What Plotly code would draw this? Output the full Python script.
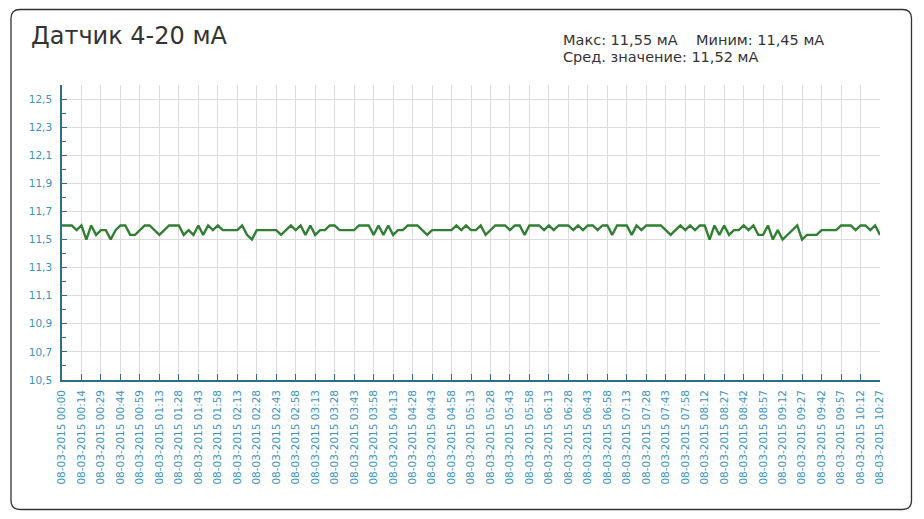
import plotly.graph_objects as go

# ---- data ----
tick_labels = [
    "08-03-2015 00:00", "08-03-2015 00:14", "08-03-2015 00:29", "08-03-2015 00:44",
    "08-03-2015 00:59", "08-03-2015 01:13", "08-03-2015 01:28", "08-03-2015 01:43",
    "08-03-2015 01:58", "08-03-2015 02:13", "08-03-2015 02:28", "08-03-2015 02:43",
    "08-03-2015 02:58", "08-03-2015 03:13", "08-03-2015 03:28", "08-03-2015 03:43",
    "08-03-2015 03:58", "08-03-2015 04:13", "08-03-2015 04:28", "08-03-2015 04:43",
    "08-03-2015 04:58", "08-03-2015 05:13", "08-03-2015 05:28", "08-03-2015 05:43",
    "08-03-2015 05:58", "08-03-2015 06:13", "08-03-2015 06:28", "08-03-2015 06:43",
    "08-03-2015 06:58", "08-03-2015 07:13", "08-03-2015 07:28", "08-03-2015 07:43",
    "08-03-2015 07:58", "08-03-2015 08:12", "08-03-2015 08:27", "08-03-2015 08:42",
    "08-03-2015 08:57", "08-03-2015 09:12", "08-03-2015 09:27", "08-03-2015 09:42",
    "08-03-2015 09:57", "08-03-2015 10:12", "08-03-2015 10:27",
]

values = [
    11.60, 11.60, 11.60, 11.567, 11.60, 11.50, 11.60, 11.533, 11.567, 11.567,
    11.50, 11.567, 11.60, 11.60, 11.533, 11.533, 11.567, 11.60, 11.60, 11.567,
    11.533, 11.567, 11.60, 11.60, 11.60, 11.533, 11.567, 11.533, 11.60, 11.533,
    11.60, 11.567, 11.60, 11.567, 11.567, 11.567, 11.567, 11.60, 11.533, 11.50,
    11.567, 11.567, 11.567, 11.567, 11.567, 11.533, 11.567, 11.60, 11.567, 11.60,
    11.533, 11.60, 11.533, 11.567, 11.567, 11.60, 11.60, 11.567, 11.567, 11.567,
    11.567, 11.60, 11.60, 11.60, 11.533, 11.60, 11.533, 11.60, 11.533, 11.567,
    11.567, 11.60, 11.60, 11.60, 11.567, 11.533, 11.567, 11.567, 11.567, 11.567,
    11.567, 11.60, 11.567, 11.60, 11.567, 11.567, 11.60, 11.533, 11.567, 11.60,
    11.60, 11.60, 11.567, 11.60, 11.60, 11.533, 11.60, 11.60, 11.60, 11.567,
    11.60, 11.567, 11.60, 11.60, 11.60, 11.567, 11.60, 11.567, 11.60, 11.60,
    11.567, 11.60, 11.60, 11.533, 11.60, 11.60, 11.60, 11.533, 11.60, 11.567,
    11.60, 11.60, 11.60, 11.60, 11.567, 11.533, 11.567, 11.60, 11.567, 11.60,
    11.567, 11.60, 11.60, 11.50, 11.60, 11.533, 11.60, 11.533, 11.567, 11.567,
    11.60, 11.567, 11.60, 11.533, 11.533, 11.60, 11.50, 11.567, 11.50, 11.533,
    11.567, 11.60, 11.50, 11.533, 11.533, 11.533, 11.567, 11.567, 11.567, 11.567,
    11.60, 11.60, 11.60, 11.567, 11.60, 11.60, 11.567, 11.60, 11.533,
]

points_per_label = 4
x_idx = list(range(len(values)))
tick_idx = list(range(0, len(values), points_per_label))
y_tickvals = [10.5, 10.7, 10.9, 11.1, 11.3, 11.5, 11.7, 11.9, 12.1, 12.3, 12.5]

title_text = "Датчик 4-20 мА"
stats_line1 = "Макс: 11,55 мА    Миним: 11,45 мА"
stats_line2 = "Сред. значение: 11,52 мА"

# ---- layout geometry ----
W, H = 924, 519
ML, MR, MT, MB = 62, 44, 85, 139
PW, PH = W - ML - MR, H - MT - MB

def px(x):
    return (x - ML) / PW

def py(y):
    return (H - MB - y) / PH

axis_col = "#2f6f86"
label_col = "#3a93bb"
font_fam = "DejaVu Sans, Verdana, sans-serif"

fig = go.Figure()
fig.add_trace(go.Scatter(
    x=x_idx, y=values, mode="lines",
    line=dict(color="#317f33", width=2.4),
    hoverinfo="y", showlegend=False, cliponaxis=False,
))

# rounded border
x0, x1, y0, y1, r = 11, 911.5, 9.5, 509.5, 9
path = (
    f"M {px(x0 + r)} {py(y0)} L {px(x1 - r)} {py(y0)} "
    f"Q {px(x1)} {py(y0)} {px(x1)} {py(y0 + r)} "
    f"L {px(x1)} {py(y1 - r)} Q {px(x1)} {py(y1)} {px(x1 - r)} {py(y1)} "
    f"L {px(x0 + r)} {py(y1)} Q {px(x0)} {py(y1)} {px(x0)} {py(y1 - r)} "
    f"L {px(x0)} {py(y0 + r)} Q {px(x0)} {py(y0)} {px(x0 + r)} {py(y0)} Z"
)

fig.update_layout(
    width=W, height=H,
    margin=dict(l=ML, r=MR, t=MT, b=MB),
    paper_bgcolor="white", plot_bgcolor="white",
    separators=", ",
    font=dict(family=font_fam, color="#333333"),
    shapes=[dict(type="path", xref="paper", yref="paper", path=path,
                 line=dict(color="#333333", width=1.3), layer="below")],
    annotations=[
        dict(text=title_text, xref="paper", yref="paper", x=px(29), y=py(36),
             xanchor="left", yanchor="middle", showarrow=False,
             font=dict(size=24, color="#333333", family=font_fam)),
        dict(text=stats_line1, xref="paper", yref="paper", x=px(561), y=py(39.5),
             xanchor="left", yanchor="middle", showarrow=False,
             font=dict(size=14.5, color="#333333", family=font_fam)),
        dict(text=stats_line2, xref="paper", yref="paper", x=px(561), y=py(57),
             xanchor="left", yanchor="middle", showarrow=False,
             font=dict(size=14.5, color="#333333", family=font_fam)),
    ],
    xaxis=dict(
        range=[0, len(values) - 1],
        tickmode="array", tickvals=tick_idx, ticktext=tick_labels,
        tickangle=-90,
        tickfont=dict(size=10.5, color=label_col, family=font_fam),
        ticks="inside", ticklen=6, tickcolor=axis_col, tickwidth=1,
        showline=True, linecolor=axis_col, linewidth=1.5,
        showgrid=True, gridcolor="#dcdcdc", gridwidth=1,
        zeroline=False, ticklabelstandoff=4,
    ),
    yaxis=dict(
        range=[10.5, 12.6],
        tickmode="array", tickvals=y_tickvals,
        tickformat=".1f",
        tickfont=dict(size=10.5, color=label_col, family=font_fam),
        ticks="inside", ticklen=5, tickcolor=axis_col, tickwidth=1,
        minor=dict(dtick=0.1, tick0=10.5, ticks="inside", ticklen=4, tickcolor=axis_col, showgrid=False),
        showline=True, linecolor=axis_col, linewidth=1.5,
        showgrid=True, gridcolor="#dcdcdc", gridwidth=1,
        zeroline=False, ticklabelstandoff=6,
    ),
)

fig.write_html("out.html")
